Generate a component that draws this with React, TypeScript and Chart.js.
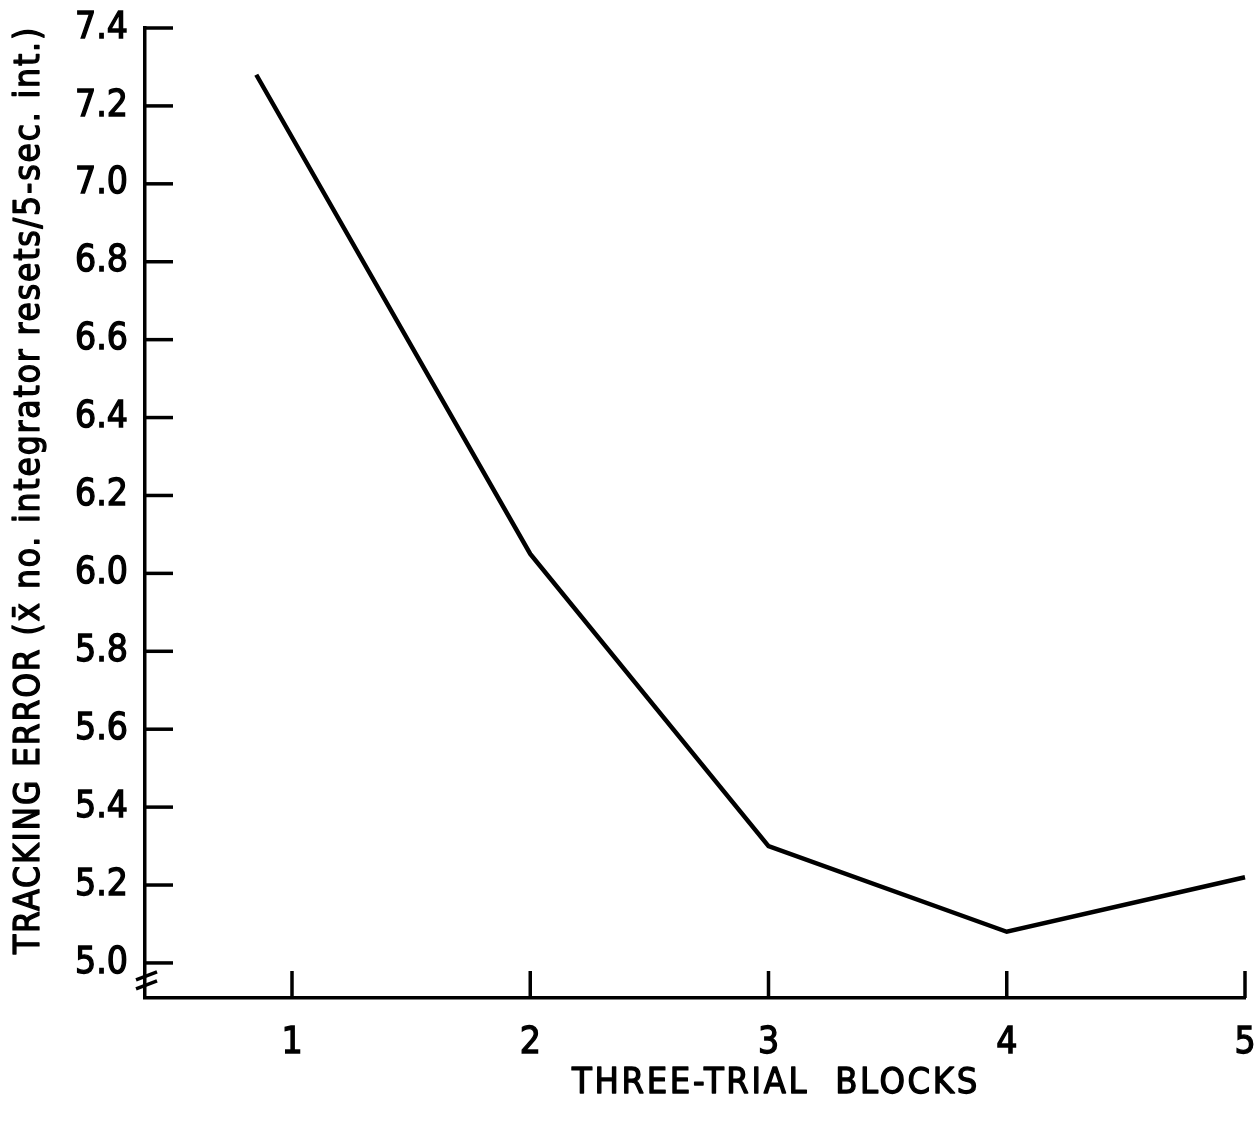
import React, { useEffect, useRef } from "react";
import { Chart, registerables } from "chart.js";

Chart.register(...registerables);

const blocks = [0.85, 2, 3, 4, 5];
const trackingError = [7.28, 6.05, 5.3, 5.08, 5.22];
const xTickValues = [1, 2, 3, 4, 5];
const xTickLabels = ["1", "2", "3", "4", "5"];
const yTickValues = [5.0, 5.2, 5.4, 5.6, 5.8, 6.0, 6.2, 6.4, 6.6, 6.8, 7.0, 7.2, 7.4];
const yTickLabels = ["5.0", "5.2", "5.4", "5.6", "5.8", "6.0", "6.2", "6.4", "6.6", "6.8", "7.0", "7.2", "7.4"];
const xTitle = "THREE-TRIAL  BLOCKS";
const yTitle = "TRACKING ERROR (x\u0304 no. integrator resets/5-sec. int.)";

const FONT = "'DejaVu Sans Condensed', 'Liberation Sans Narrow', 'DejaVu Sans', sans-serif";

function spaceText(ctx: CanvasRenderingContext2D, text: string, target: number, size: number) {
  ctx.font = `${size}px ${FONT}`;
  (ctx as any).letterSpacing = "0px";
  const w = ctx.measureText(text).width;
  const n = Array.from(text).length;
  const sp = Math.max(0, (target - w) / n);
  (ctx as any).letterSpacing = `${sp.toFixed(2)}px`;
}

const decorPlugin = {
  id: "decor",
  afterDraw(chart: any) {
    const ctx = chart.ctx as CanvasRenderingContext2D;
    const xs = chart.scales.x;
    const ys = chart.scales.y;
    const area = chart.chartArea;
    ctx.save();
    ctx.strokeStyle = "#000";
    ctx.lineWidth = 3.5;
    ctx.lineCap = "butt";
    yTickValues.forEach((v) => {
      const py = ys.getPixelForValue(v);
      ctx.beginPath();
      ctx.moveTo(area.left, py);
      ctx.lineTo(area.left + 28, py);
      ctx.stroke();
    });
    xTickValues.forEach((v) => {
      const px = xs.getPixelForValue(v);
      ctx.beginPath();
      ctx.moveTo(px, area.bottom);
      ctx.lineTo(px, area.bottom - 27);
      ctx.stroke();
    });
    const base = ys.getPixelForValue(5.0);
    [13, 22].forEach((d) => {
      ctx.beginPath();
      ctx.moveTo(area.left - 9, base + d + 4);
      ctx.lineTo(area.left + 12, base + d - 4);
      ctx.stroke();
    });
    ctx.fillStyle = "#000";
    ctx.lineWidth = 1.3;
    ctx.lineJoin = "round";
    ctx.textAlign = "center";
    ctx.textBaseline = "middle";
    spaceText(ctx, yTitle, 930, 35);
    ctx.save();
    ctx.translate(30, 490);
    ctx.rotate(-Math.PI / 2);
    ctx.fillText(yTitle, 0, 0);
    ctx.strokeText(yTitle, 0, 0);
    ctx.restore();
    spaceText(ctx, xTitle, 408, 36);
    ctx.fillText(xTitle, 776, 1084);
    ctx.strokeText(xTitle, 776, 1084);
    ctx.restore();
  },
};

function noPad(s: any) {
  s.paddingTop = 0;
  s.paddingBottom = 0;
  s.paddingLeft = 0;
  s.paddingRight = 0;
}

export default function App() {
  const ref = useRef<HTMLCanvasElement | null>(null);
  useEffect(() => {
    if (!ref.current) return;
    const chart = new Chart(ref.current, {
      type: "line",
      data: {
        datasets: [
          {
            data: blocks.map((b, i) => ({ x: b, y: trackingError[i] })),
            borderColor: "#000",
            borderWidth: 4.5,
            pointRadius: 0,
            tension: 0,
            fill: false,
            clip: false as any,
          },
        ],
      },
      options: {
        animation: false,
        responsive: true,
        maintainAspectRatio: false,
        layout: { padding: { top: 28, right: 14, left: 0, bottom: 0 } },
        plugins: { legend: { display: false }, tooltip: { enabled: false }, title: { display: false } },
        scales: {
          x: {
            type: "linear",
            min: 0.383,
            max: 5,
            grid: { display: false, drawTicks: false },
            border: { display: true, color: "#000", width: 3.5 },
            afterBuildTicks: (s: any) => {
              s.ticks = xTickValues.map((v) => ({ value: v }));
            },
            afterFit: (s: any) => {
              s.height = 129;
              noPad(s);
            },
            ticks: {
              color: "#000",
              font: { family: FONT, size: 37 },
              textStrokeColor: "#000",
              textStrokeWidth: 1.3,
              padding: 23,
              autoSkip: false,
              maxRotation: 0,
              callback: (v: any) => {
                const i = xTickValues.indexOf(Number(v));
                return i >= 0 ? xTickLabels[i] : "";
              },
            },
          },
          y: {
            type: "linear",
            min: 4.91,
            max: 7.4,
            grid: { display: false, drawTicks: false },
            border: { display: true, color: "#000", width: 3.5 },
            afterBuildTicks: (s: any) => {
              s.ticks = yTickValues.map((v) => ({ value: v }));
            },
            afterFit: (s: any) => {
              s.width = 145;
              noPad(s);
            },
            ticks: {
              color: "#000",
              font: { family: FONT, size: 37 },
              textStrokeColor: "#000",
              textStrokeWidth: 1.3,
              padding: 17,
              autoSkip: false,
              callback: (v: any) => {
                const i = yTickValues.findIndex((t) => Math.abs(t - Number(v)) < 1e-6);
                return i >= 0 ? yTickLabels[i] : "";
              },
            },
          },
        },
      },
      plugins: [decorPlugin],
    });
    return () => chart.destroy();
  }, []);
  return (
    <div style={{ position: "absolute", left: 0, top: 0, width: 1259, height: 1127, background: "#fff" }}>
      <canvas ref={ref} />
    </div>
  );
}
